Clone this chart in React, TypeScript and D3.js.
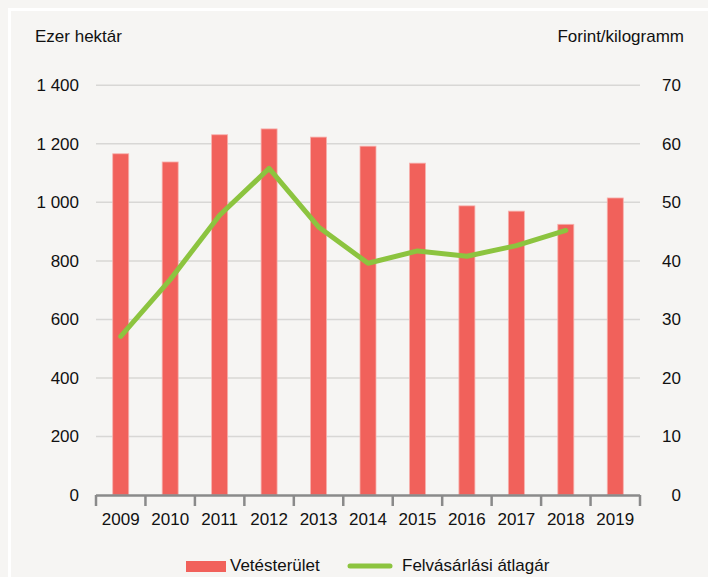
import React from "react";
import * as d3 from "d3";

const years = ["2009","2010","2011","2012","2013","2014","2015","2016","2017","2018","2019"];
const area = [1166, 1138, 1231, 1251, 1223, 1192, 1134, 988, 970, 925, 1015];
const price: (number | null)[] = [27.1, 36.8, 47.8, 55.8, 45.8, 39.6, 41.7, 40.8, 42.6, 45.2, null];
const leftTicks = [0, 200, 400, 600, 800, 1000, 1200, 1400];
const rightTicks = [0, 10, 20, 30, 40, 50, 60, 70];
const leftTitle = "Ezer hektár";
const rightTitle = "Forint/kilogramm";
const legendLabels = ["Vetésterület", "Felvásárlási átlagár"];

const W = 708, H = 577;
const font = "'Liberation Sans', Arial, sans-serif";

export default function App() {
  const x = d3.scaleBand<string>().domain(years).range([96, 640]);
  const yL = d3.scaleLinear().domain([0, 1400]).range([495, 85.3]);
  const yR = d3.scaleLinear().domain([0, 70]).range([495, 85.3]);
  const barW = 16;
  const line = d3.line<number | null>()
    .defined(d => d !== null)
    .x((_, i) => (x(years[i]) as number) + x.bandwidth() / 2)
    .y(d => yR(d as number));
  const fmt = (v: number) => d3.format(",")(v).replace(/,/g, " ");
  return (
    <svg width={W} height={H} style={{ position: "absolute", left: 0, top: 0, display: "block" }} fontFamily={font}>
      <rect x={0} y={0} width={W} height={H} fill="#f6f5f3" />
      <rect x={8} y={8} width={W} height={3} fill="#ffffff" />
      <rect x={8} y={8} width={3} height={H} fill="#ffffff" />
      {leftTicks.filter(t => t > 0).map(t => (
        <line key={t} x1={96} x2={640} y1={yL(t)} y2={yL(t)} stroke="#d8d7d5" strokeWidth={1.5} />
      ))}
      {years.map((yr, i) => (
        <rect key={yr} x={(x(yr) as number) + x.bandwidth() / 2 - barW / 2} y={yL(area[i])}
          width={barW} height={495 - yL(area[i])} fill="#f1615b" stroke="#f7b1ad" strokeWidth={0.8} />
      ))}
      <line x1={96} x2={640} y1={495.5} y2={495.5} stroke="#8a8a8a" strokeWidth={2.5} />
      {[...years.map(y => x(y) as number), 640].map((t, i) => (
        <line key={i} x1={t} x2={t} y1={495} y2={506} stroke="#8a8a8a" strokeWidth={2.5} />
      ))}
      <path d={line(price) || ""} fill="none" stroke="#8cc43f" strokeWidth={5} strokeLinejoin="round" strokeLinecap="round" />
      {leftTicks.map(t => (
        <text key={t} x={79} y={yL(t)} dy="0.35em" textAnchor="end" fontSize={17} fill="#111">{fmt(t)}</text>
      ))}
      {rightTicks.map(t => (
        <text key={t} x={681} y={yR(t)} dy="0.35em" textAnchor="end" fontSize={17} fill="#111">{t}</text>
      ))}
      {years.map(yr => (
        <text key={yr} x={(x(yr) as number) + x.bandwidth() / 2} y={525} textAnchor="middle" fontSize={17} fill="#111">{yr}</text>
      ))}
      <text x={35} y={42} fontSize={17} fill="#111">{leftTitle}</text>
      <text x={684} y={42} fontSize={17} textAnchor="end" fill="#111">{rightTitle}</text>
      <rect x={186} y={561} width={40} height={11} fill="#f1615b" />
      <text x={230} y={571} fontSize={17} fill="#111">{legendLabels[0]}</text>
      <line x1={350} x2={390} y1={566} y2={566} stroke="#8cc43f" strokeWidth={5} strokeLinecap="round" />
      <text x={402} y={571} fontSize={17} fill="#111">{legendLabels[1]}</text>
    </svg>
  );
}
